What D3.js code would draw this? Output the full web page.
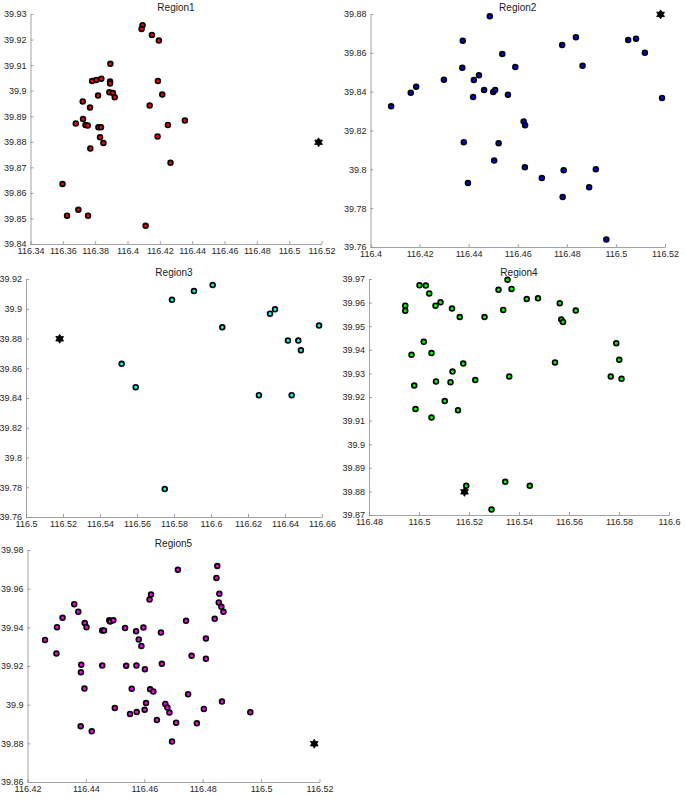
<!DOCTYPE html>
<html>
<head>
<meta charset="utf-8">
<script src="https://cdn.jsdelivr.net/npm/d3@7"></script>
<style>
body { margin: 0; background: #fff; }
svg { display: block; }
text { font-family: "Liberation Sans", Arial, Helvetica, sans-serif; }
</style>
</head>
<body>
<div class="js-vis"></div>
<script>
"use strict";

// reference point (hexagram), same in every region
var star = [116.5182, 39.8798];

// station coordinates [lon, lat]
var region1 = [
  [116.4093, 39.9256], [116.4087, 39.9241], [116.4151, 39.9218], [116.4194, 39.9196],
  [116.3894, 39.9105], [116.3781, 39.9038], [116.3807, 39.9042], [116.3838, 39.9047],
  [116.3892, 39.9036], [116.3892, 39.9028], [116.4188, 39.9038], [116.3888, 39.8994],
  [116.3910, 39.8991], [116.3921, 39.8974], [116.3818, 39.8981], [116.4215, 39.8985],
  [116.3723, 39.8958], [116.3768, 39.8934], [116.4137, 39.8942], [116.3725, 39.8889],
  [116.3680, 39.8872], [116.3740, 39.8866], [116.3754, 39.8864], [116.3820, 39.8857],
  [116.3836, 39.8857], [116.4355, 39.8883], [116.4250, 39.8866], [116.3830, 39.8818],
  [116.4186, 39.8821], [116.3851, 39.8795], [116.3770, 39.8774], [116.4266, 39.8718],
  [116.3598, 39.8635], [116.3696, 39.8534], [116.3626, 39.8511], [116.3756, 39.8511],
  [116.4112, 39.8471]
];

var region2 = [
  [116.4486, 39.8788], [116.4376, 39.8662], [116.4837, 39.8680], [116.4781, 39.8640],
  [116.5050, 39.8666], [116.5082, 39.8673], [116.5118, 39.8601], [116.4537, 39.8594],
  [116.4374, 39.8523], [116.4590, 39.8527], [116.4864, 39.8533], [116.4299, 39.8461],
  [116.4421, 39.8460], [116.4442, 39.8484], [116.4463, 39.8408], [116.4500, 39.8398],
  [116.4508, 39.8408], [116.4560, 39.8384], [116.4418, 39.8372], [116.4186, 39.8425],
  [116.4164, 39.8394], [116.4084, 39.8325], [116.5188, 39.8368], [116.4624, 39.8246],
  [116.4630, 39.8227], [116.4380, 39.8140], [116.4522, 39.8134], [116.4504, 39.8045],
  [116.4629, 39.8011], [116.4698, 39.7956], [116.4787, 39.7995], [116.4918, 39.8000],
  [116.4397, 39.7930], [116.4891, 39.7908], [116.4783, 39.7858], [116.4961, 39.7639]
];

var region3 = [
  [116.6009, 39.9160], [116.5908, 39.9119], [116.5789, 39.9061], [116.6061, 39.8876],
  [116.6319, 39.8967], [116.6346, 39.8996], [116.6584, 39.8887], [116.6416, 39.8786],
  [116.6472, 39.8786], [116.6486, 39.8721], [116.5517, 39.8630], [116.5593, 39.8473],
  [116.6259, 39.8419], [116.6436, 39.8419], [116.5750, 39.7788]
];

var region4 = [
  [116.5354, 39.9697], [116.5002, 39.9673], [116.5027, 39.9672], [116.5318, 39.9654],
  [116.5370, 39.9658], [116.5041, 39.9639], [116.5431, 39.9615], [116.5476, 39.9618],
  [116.4945, 39.9587], [116.4945, 39.9565], [116.5086, 39.9601], [116.5066, 39.9587],
  [116.5132, 39.9575], [116.5337, 39.9569], [116.5563, 39.9597], [116.5627, 39.9566],
  [116.5163, 39.9539], [116.5262, 39.9539], [116.5569, 39.9528], [116.5576, 39.9518],
  [116.5019, 39.9434], [116.5789, 39.9428], [116.4970, 39.9379], [116.5050, 39.9386],
  [116.5177, 39.9342], [116.5544, 39.9346], [116.5801, 39.9358], [116.5134, 39.9308],
  [116.5361, 39.9287], [116.5767, 39.9287], [116.5810, 39.9277], [116.5068, 39.9266],
  [116.5126, 39.9263], [116.5225, 39.9272], [116.4981, 39.9249], [116.5103, 39.9183],
  [116.4986, 39.9149], [116.5156, 39.9144], [116.5050, 39.9113], [116.5189, 39.8824],
  [116.5345, 39.8841], [116.5443, 39.8824], [116.5290, 39.8723]
];

var region5 = [
  [116.4850, 39.9717], [116.4715, 39.9698], [116.4847, 39.9655], [116.4623, 39.9570],
  [116.4618, 39.9544], [116.4857, 39.9574], [116.4855, 39.9529], [116.4864, 39.9506],
  [116.4871, 39.9480], [116.4360, 39.9520], [116.4374, 39.9480], [116.4320, 39.9449],
  [116.4396, 39.9422], [116.4402, 39.9401], [116.4301, 39.9401], [116.4480, 39.9437],
  [116.4483, 39.9430], [116.4494, 39.9436], [116.4456, 39.9384], [116.4462, 39.9384],
  [116.4534, 39.9396], [116.4572, 39.9380], [116.4597, 39.9399], [116.4657, 39.9373],
  [116.4743, 39.9434], [116.4841, 39.9444], [116.4811, 39.9342], [116.4581, 39.9337],
  [116.4590, 39.9304], [116.4260, 39.9335], [116.4299, 39.9265], [116.4384, 39.9206],
  [116.4383, 39.9168], [116.4456, 39.9202], [116.4538, 39.9201], [116.4573, 39.9202],
  [116.4602, 39.9183], [116.4660, 39.9211], [116.4762, 39.9253], [116.4811, 39.9237],
  [116.4395, 39.9083], [116.4557, 39.9082], [116.4620, 39.9080], [116.4631, 39.9068],
  [116.4750, 39.9054], [116.4866, 39.9016], [116.4672, 39.9004], [116.4679, 39.8985],
  [116.4686, 39.8959], [116.4606, 39.9009], [116.4601, 39.8974], [116.4574, 39.8962],
  [116.4551, 39.8952], [116.4499, 39.8983], [116.4804, 39.8978], [116.4643, 39.8921],
  [116.4709, 39.8907], [116.4780, 39.8904], [116.4963, 39.8961], [116.4382, 39.8888],
  [116.4420, 39.8862], [116.4695, 39.8809]
];

var titles = ["Region1", "Region2", "Region3", "Region4", "Region5"];
var colors = ["#ff0000", "#0000ff", "#00ffff", "#00ff00", "#ff00ff"];

var xTicks1 = [116.34, 116.36, 116.38, 116.4, 116.42, 116.44, 116.46, 116.48, 116.5, 116.52];
var yTicks1 = [39.84, 39.85, 39.86, 39.87, 39.88, 39.89, 39.9, 39.91, 39.92, 39.93];
var xTicks2 = [116.4, 116.42, 116.44, 116.46, 116.48, 116.5, 116.52];
var yTicks2 = [39.76, 39.78, 39.8, 39.82, 39.84, 39.86, 39.88];
var xTicks3 = [116.5, 116.52, 116.54, 116.56, 116.58, 116.6, 116.62, 116.64, 116.66];
var yTicks3 = [39.76, 39.78, 39.8, 39.82, 39.84, 39.86, 39.88, 39.9, 39.92];
var xTicks4 = [116.48, 116.5, 116.52, 116.54, 116.56, 116.58, 116.6];
var yTicks4 = [39.87, 39.88, 39.89, 39.9, 39.91, 39.92, 39.93, 39.94, 39.95, 39.96, 39.97];
var xTicks5 = [116.42, 116.44, 116.46, 116.48, 116.5, 116.52];
var yTicks5 = [39.86, 39.88, 39.9, 39.92, 39.94, 39.96, 39.98];

// axes boxes in page pixels: left, top, right, bottom
var panels = [
  { data: region1, xt: xTicks1, yt: yTicks1, box: [30.5, 14, 321.5, 244] },
  { data: region2, xt: xTicks2, yt: yTicks2, box: [370.5, 14, 665, 247] },
  { data: region3, xt: xTicks3, yt: yTicks3, box: [26, 279, 322, 517] },
  { data: region4, xt: xTicks4, yt: yTicks4, box: [369, 279, 669, 515] },
  { data: region5, xt: xTicks5, yt: yTicks5, box: [27.5, 550, 319.5, 782] }
];

var fmt = function (v) { return String(+v.toFixed(2)); };

var svg = d3.select(".js-vis").append("svg")
    .attr("width", 685)
    .attr("height", 801);

// six-pointed star like matlab's 'h' marker
var hexagram = d3.lineRadial()
    .curve(d3.curveLinearClosed)
    .angle(function (d, i) { return i * Math.PI / 6; })
    .radius(function (d, i) { return i % 2 ? 2.6 : 4.5; })(d3.range(12));

panels.forEach(function (p, i) {
  var w = p.box[2] - p.box[0],
      h = p.box[3] - p.box[1];

  var x = d3.scaleLinear().domain(d3.extent(p.xt)).range([0, w]);
  var y = d3.scaleLinear().domain(d3.extent(p.yt)).range([h, 0]);

  var g = svg.append("g").attr("transform", "translate(" + p.box[0] + "," + p.box[1] + ")");

  var xax = d3.axisBottom(x).tickValues(p.xt).tickFormat(fmt)
      .tickSizeInner(-3).tickSizeOuter(0).tickPadding(4);
  var yax = d3.axisLeft(y).tickValues(p.yt).tickFormat(fmt)
      .tickSizeInner(-3).tickSizeOuter(0).tickPadding(4);

  [g.append("g").attr("transform", "translate(0," + h + ")").call(xax),
   g.append("g").call(yax)].forEach(function (a) {
    a.selectAll("path, line").attr("stroke", "#8a8a8a").attr("stroke-width", 0.8);
    a.selectAll("text").attr("fill", "#262626").style("font-size", "9px");
  });

  g.append("text")
      .attr("x", w / 2)
      .attr("y", -3)
      .attr("text-anchor", "middle")
      .attr("fill", "#1a1a1a")
      .style("font-size", "10px")
      .text(titles[i]);

  g.append("g").selectAll("circle").data(p.data).enter().append("circle")
      .attr("cx", function (d) { return x(d[0]); })
      .attr("cy", function (d) { return y(d[1]); })
      .attr("r", 2.4)
      .attr("fill", colors[i])
      .attr("stroke", "#000")
      .attr("stroke-width", 1.7);

  g.append("path")
      .attr("d", hexagram)
      .attr("transform", "translate(" + x(star[0]) + "," + y(star[1]) + ")")
      .attr("fill", "#000")
      .attr("stroke", "#000")
      .attr("stroke-width", 0.8);
});
</script>
</body>
</html>
